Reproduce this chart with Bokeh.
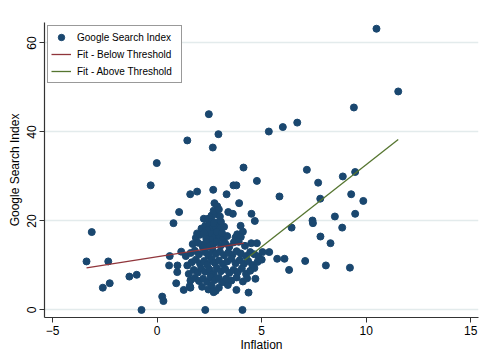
from bokeh.plotting import figure
from bokeh.models import FixedTicker
from bokeh.embed import file_html
from bokeh.resources import INLINE

# ---- data ----
inflation_outer = [
    -3.38, -3.13, -2.34, -2.60, -2.27, -1.33, -0.98, -0.75, -0.31, -0.02,
    0.24, 0.30, 0.78, 1.05, 0.60, 0.57, 0.97, 0.96, 0.91, 1.15,
    1.44, 1.58, 1.91, 1.27, 1.59, 1.37, 2.30, 4.08, 2.66, 2.47,
    2.93, 2.68, 3.32, 2.74, 3.65, 3.79, 4.13, 4.77, 3.92, 3.40,
    3.62, 4.51, 4.67, 4.50, 4.77, 4.37, 4.70, 5.36, 5.04, 5.74,
    6.09, 6.31, 6.43, 5.85, 3.38, 3.79, 10.49, 11.53, 9.41, 5.34,
    6.01, 6.70, 7.16, 7.70, 8.88, 9.47, 7.80, 9.28, 9.86, 7.43,
    7.45, 8.50, 9.47, 8.85, 7.81, 8.29, 7.08, 8.07, 9.22, 2.23,
    2.12, 1.91, 1.70, 1.44, 1.51, 1.59, 1.56, 4.10, 3.99,
    3.75, 3.67, 2.87, 2.44, 2.63, 2.87, 3.83,
]
index_outer = [
    10.9, 17.5, 10.9, 5.0, 6.0, 7.5, 7.9, 0.0, 28.0, 33.0,
    3.0, 2.0, 19.5, 22.0, 12.1, 10.0, 10.0, 8.5, 6.0, 13.1,
    38.1, 26.0, 26.6, 4.5, 5.0, 12.1, 0.0, 0.0, 36.5, 44.0,
    39.5, 27.0, 26.0, 24.0, 28.0, 28.0, 32.0, 29.0, 24.0, 22.0,
    21.6, 21.6, 20.0, 15.0, 15.0, 3.9, 7.0, 13.0, 13.0, 11.5,
    11.5, 9.0, 18.5, 25.5, 5.6, 4.5, 63.2, 49.1, 45.5, 40.1,
    41.1, 42.1, 31.5, 28.6, 30.0, 31.0, 25.0, 26.0, 24.5, 20.1,
    19.5, 21.0, 21.6, 18.5, 16.5, 15.0, 11.0, 10.0, 9.5, 20.5,
    18.3, 17.2, 14.8, 10.0, 8.1, 6.6, 5.4, 17.6, 18.9,
    16.3, 15.2, 23.3, 20.5, 20.0, 19.6, 17.0,
]
inflation_core = [
    3.05, 2.60, 2.80, 3.00, 2.70, 2.95,
    2.30, 2.50, 2.65, 2.80, 3.00, 3.20, 2.40, 2.70,
    1.85, 2.05, 2.25, 2.45, 2.60, 2.75, 2.95, 3.15, 3.35, 4.00, 2.55, 2.85, 3.10, 2.35,
    1.95, 2.15, 2.35, 2.50, 2.70, 2.85, 3.05, 3.25, 3.45, 3.90, 4.20, 2.20,
    1.60, 1.80, 2.00, 2.30, 2.45, 2.65, 2.80, 3.00, 3.20, 3.40, 3.60, 3.80, 4.00, 4.25, 4.45, 4.65, 4.85,
    1.65, 1.85, 2.05, 2.25, 2.40, 2.60, 2.75, 2.95, 3.15, 3.35, 3.55, 3.75, 3.95, 4.15, 4.35, 4.55, 4.80, 5.00,
    1.75, 1.95, 2.10, 2.30, 2.50, 2.70, 2.85, 3.05, 3.25, 3.45, 3.65, 3.85, 4.05, 4.25, 4.45, 4.65, 2.60,
    1.80, 2.00, 2.20, 2.40, 2.55, 2.75, 2.95, 3.10, 3.30, 3.55, 3.80, 4.10, 4.30,
    2.15, 2.45, 2.60, 2.80, 2.95, 2.70,
]
index_core = [
    19.8, 21.2, 21.5, 21.0, 22.3, 22.6,
    18.9, 19.2, 18.4, 18.8, 18.2, 18.7, 17.9, 19.5,
    16.2, 16.9, 17.3, 16.5, 17.1, 16.3, 16.8, 16.0, 16.6, 16.4, 15.8, 17.6, 17.3, 16.0,
    15.1, 14.6, 15.3, 14.3, 14.9, 15.4, 14.5, 15.0, 14.2, 15.3, 14.4, 13.9,
    12.8, 13.3, 12.5, 13.0, 12.2, 13.4, 12.6, 13.1, 12.3, 12.9, 12.4, 13.2, 12.7, 12.1, 13.0, 12.5, 12.0,
    10.7, 11.3, 10.4, 11.0, 10.2, 11.4, 10.6, 11.1, 10.3, 10.9, 11.5, 10.5, 11.2, 10.4, 11.0, 10.1, 10.8, 11.3,
    9.0, 8.4, 9.3, 8.6, 9.1, 8.2, 9.4, 8.7, 9.2, 8.3, 9.0, 8.5, 9.3, 8.1, 8.8, 9.4, 7.8,
    7.2, 6.5, 7.0, 6.3, 7.4, 6.7, 7.2, 6.2, 7.0, 6.6, 7.3, 6.4, 7.1,
    5.2, 4.6, 5.5, 4.3, 5.0, 4.0,
]

fit_below_x = [-3.38, 4.15]
fit_below_y = [9.44, 15.0]
fit_above_x = [4.19, 11.53]
fit_above_y = [11.2, 38.3]

x_ticks = [-5, 0, 5, 10, 15]
y_ticks = [0, 20, 40, 60]

inflation = inflation_outer + inflation_core
search_index = index_outer + index_core

FONT = "Liberation Sans"
NAVY = "#1a476f"
MAROON = "#90353b"
GREEN = "#55752f"

p = figure(width=484, height=354, x_range=(-5.39, 15.37), y_range=(-1.7, 64.6),
           output_backend="svg", toolbar_location=None,
           min_border_left=44, min_border_right=6, min_border_top=22, min_border_bottom=35)

p.scatter(inflation, search_index, size=7, color=NAVY, line_color=NAVY,
          legend_label="Google Search Index")
p.line(fit_below_x, fit_below_y, line_color=MAROON, line_width=1.3,
       legend_label="Fit - Below Threshold")
p.line(fit_above_x, fit_above_y, line_color=GREEN, line_width=1.3,
       legend_label="Fit - Above Threshold")

p.outline_line_color = None
p.xgrid.visible = False
p.ygrid.grid_line_color = "#e3ebec"
p.ygrid.grid_line_width = 1.5
p.ygrid.ticker = FixedTicker(ticks=y_ticks)

p.xaxis.ticker = FixedTicker(ticks=x_ticks)
p.yaxis.ticker = FixedTicker(ticks=y_ticks)
p.yaxis.major_label_orientation = "vertical"
p.xaxis.axis_label = "Inflation"
p.yaxis.axis_label = "Google Search Index"

for ax in (p.xaxis[0], p.yaxis[0]):
    ax.axis_line_color = "#333333"
    ax.axis_line_width = 1.2
    ax.major_tick_line_color = "#333333"
    ax.major_tick_out = 5
    ax.major_tick_in = 0
    ax.minor_tick_line_color = None
    ax.major_label_standoff = 3
    ax.axis_label_standoff = 3
    ax.major_label_text_font = FONT
    ax.major_label_text_font_size = "12px"
    ax.major_label_text_color = "black"
    ax.axis_label_text_font = FONT
    ax.axis_label_text_font_size = "12px"
    ax.axis_label_text_font_style = "normal"
    ax.axis_label_text_color = "black"
p.xaxis.axis_label_standoff = 0

lg = p.legend[0]
lg.location = "top_left"
lg.margin = 3
lg.padding = 3
lg.spacing = 1
lg.glyph_width = 20
lg.glyph_height = 16
lg.label_height = 16
lg.label_width = 101
lg.label_standoff = 6
lg.label_text_font = FONT
lg.label_text_font_size = "10px"
lg.label_text_color = "black"
lg.border_line_color = "#333333"
lg.border_line_width = 1
lg.background_fill_color = "white"
lg.background_fill_alpha = 1.0

open("out.html", "w").write(file_html(p, INLINE))
